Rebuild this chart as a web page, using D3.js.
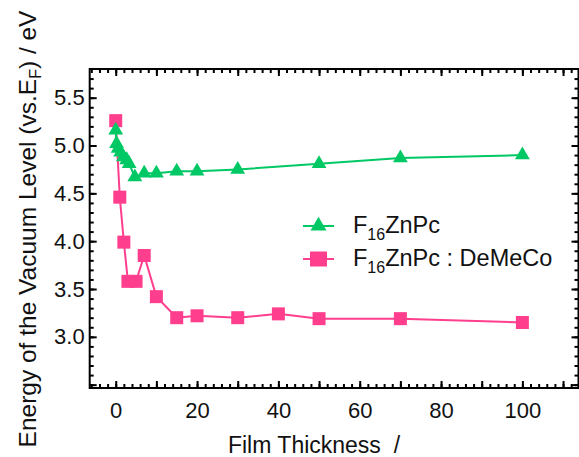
<!DOCTYPE html>
<html>
<head>
<meta charset="utf-8">
<script src="https://cdn.jsdelivr.net/npm/d3@7"></script>
<style>
  html, body { margin: 0; padding: 0; background: #fff; overflow: hidden; }
  svg { display: block; }
  text { font-family: "Liberation Sans", Arial, sans-serif; }
</style>
</head>
<body>
<div id="box"></div>
<script>
// data
const znpcThickness = [0, 0.2, 0.6, 1.2, 1.9, 2.7, 3.3, 4.7, 7, 10, 15, 20, 30, 50, 70, 100];
const znpcEnergy    = [5.16, 5.02, 4.97, 4.93, 4.88, 4.85, 4.81, 4.67, 4.71, 4.71, 4.73, 4.73, 4.75, 4.81, 4.87, 4.90];

const demecoThickness = [0, 1, 2, 3, 5, 7, 10, 15, 20, 30, 40, 50, 70, 100];
const demecoEnergy    = [5.26, 4.46, 3.99, 3.58, 3.58, 3.85, 3.42, 3.20, 3.22, 3.20, 3.24, 3.19, 3.19, 3.15];

const xTickLabels = [0, 20, 40, 60, 80, 100];
const yTickLabels = [3.0, 3.5, 4.0, 4.5, 5.0, 5.5];

const green = '#00c864';
const pink = '#ff3f8e';

const width = 579, height = 457;
const padLeft = 89.7, padRight = 0.5, padTop = 69, padBottom = 69;
const innerWidth = width - padLeft - padRight;
const innerHeight = height - padTop - padBottom;

const svg = d3.select('#box').append('svg')
  .attr('width', width)
  .attr('height', height);

const x = d3.scaleLinear().domain([-6.4, 113.8]).range([0, innerWidth]);
const y = d3.scaleLinear().domain([2.465, 5.8]).range([innerHeight, 0]);

const g = svg.append('g').attr('transform', `translate(${padLeft},${padTop})`);

// frame
g.append('rect')
  .attr('width', innerWidth)
  .attr('height', innerHeight)
  .style('fill', 'none')
  .style('stroke', '#000')
  .style('stroke-width', 2);

const xMinor = d3.range(-6, 114, 2);
const xMajor = d3.range(0, 114, 10);
const yMinor = d3.range(25, 58).map(d => d / 10);
const yMajor = [2.5, 3.0, 3.5, 4.0, 4.5, 5.0, 5.5];

function tickAxis(axisFn, scale, vals, size, tr) {
  const a = g.append('g')
    .attr('transform', tr)
    .call(axisFn(scale).tickValues(vals).tickSizeInner(-size).tickSizeOuter(0).tickFormat(''));
  a.select('.domain').remove();
  a.selectAll('text').remove();
  a.selectAll('line').style('stroke', '#000').style('stroke-width', 2);
  return a;
}

// inward ticks on all four sides
tickAxis(d3.axisBottom, x, xMinor, 4, `translate(0,${innerHeight})`);
tickAxis(d3.axisBottom, x, xMajor, 7, `translate(0,${innerHeight})`);
tickAxis(d3.axisTop, x, xMinor, 4, 'translate(0,0)');
tickAxis(d3.axisTop, x, xMajor, 7, 'translate(0,0)');
tickAxis(d3.axisLeft, y, yMinor, 4, 'translate(0,0)');
tickAxis(d3.axisLeft, y, yMajor, 7, 'translate(0,0)');
tickAxis(d3.axisRight, y, yMinor, 4, `translate(${innerWidth},0)`);
tickAxis(d3.axisRight, y, yMajor, 7, `translate(${innerWidth},0)`);

// tick labels
const xLab = g.append('g')
  .attr('transform', `translate(0,${innerHeight})`)
  .call(d3.axisBottom(x).tickValues(xTickLabels).tickSize(0).tickPadding(14));
xLab.select('.domain').remove();
xLab.selectAll('text').style('font-size', '22px').style('fill', '#111')
  .style('font-family', '"Liberation Sans", Arial, sans-serif');

const yLab = g.append('g')
  .call(d3.axisLeft(y).tickValues(yTickLabels).tickSize(0).tickPadding(5).tickFormat(d3.format('.1f')));
yLab.select('.domain').remove();
yLab.selectAll('text').style('font-size', '22px').style('fill', '#111')
  .style('font-family', '"Liberation Sans", Arial, sans-serif');

// text with a subscript, built from separate text pieces
function subText(parent, x0, y0, parts, size, subSize, shift) {
  let cx = x0;
  parts.forEach((p, i) => {
    const isSub = i % 2 === 1;
    const t = parent.append('text')
      .attr('x', cx)
      .attr('y', isSub ? y0 + shift : y0)
      .style('font-size', (isSub ? subSize : size) + 'px')
      .style('fill', '#111')
      .text(p);
    cx += t.node().getComputedTextLength();
  });
  return cx - x0;
}

// axis titles
svg.append('text')
  .attr('x', 314)
  .attr('y', 453)
  .attr('text-anchor', 'middle')
  .style('font-size', '23px')
  .style('fill', '#111')
  .style('white-space', 'pre')
  .text('Film Thickness  /');

const yTitle = svg.append('g');
const yLen = subText(yTitle, 0, 0, ['Energy of the Vacuum Level (vs.E', 'F', ') / eV'], 24.5, 16, 5);
yTitle.attr('transform', `translate(36,${229 + yLen / 2}) rotate(-90)`);

// series
const znpc = znpcThickness.map((t, i) => ({ t: t, e: znpcEnergy[i] }));
const demeco = demecoThickness.map((t, i) => ({ t: t, e: demecoEnergy[i] }));

const line = d3.line().x(d => x(d.t)).y(d => y(d.e));

g.append('path').datum(demeco)
  .attr('d', line)
  .style('fill', 'none').style('stroke', pink).style('stroke-width', 2);

g.selectAll('.sq').data(demeco)
  .join('rect')
  .attr('class', 'sq')
  .attr('x', d => x(d.t) - 6.5)
  .attr('y', d => y(d.e) - 6.5)
  .attr('width', 13)
  .attr('height', 13)
  .style('fill', pink);

g.append('path').datum(znpc)
  .attr('d', line)
  .style('fill', 'none').style('stroke', green).style('stroke-width', 2);

const tri = d3.symbol().type(d3.symbolTriangle).size(95);
g.selectAll('.tri').data(znpc)
  .join('path')
  .attr('class', 'tri')
  .attr('d', tri)
  .attr('transform', d => `translate(${x(d.t)},${y(d.e)})`)
  .style('fill', green);

// legend
const legend = svg.append('g');
const legendItems = [
  { color: green, shape: 'tri', y: 226, label: ['F', '16', 'ZnPc'] },
  { color: pink, shape: 'sq', y: 259, label: ['F', '16', 'ZnPc : DeMeCo'] }
];
legendItems.forEach(it => {
  legend.append('line')
    .attr('x1', 303).attr('x2', 334)
    .attr('y1', it.y).attr('y2', it.y)
    .style('stroke', it.color).style('stroke-width', 2);
  if (it.shape === 'tri') {
    legend.append('path')
      .attr('d', d3.symbol().type(d3.symbolTriangle).size(110))
      .attr('transform', `translate(318.5,${it.y})`)
      .style('fill', it.color);
  } else {
    legend.append('rect')
      .attr('x', 310).attr('y', it.y - 7.5)
      .attr('width', 17).attr('height', 15)
      .style('fill', it.color);
  }
  subText(legend, 353, it.y + 7, it.label, 23.5, 16, 7);
});
</script>
</body>
</html>
